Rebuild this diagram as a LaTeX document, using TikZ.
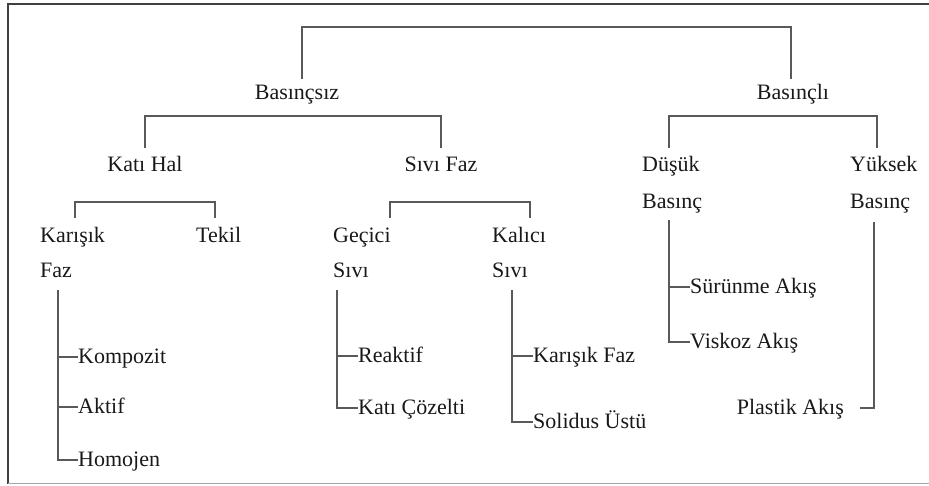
\documentclass[tikz,border=0pt]{standalone}
\usepackage{fontspec}
\setmainfont{Liberation Serif}
\begin{document}
\begin{tikzpicture}[x=1pt,y=-1pt,
  lbl/.style={inner sep=0pt,text=black!90,font=\fontsize{22}{26}\selectfont},
  lw/.style={lbl,anchor=base west},
  lc/.style={lbl,anchor=base},
  le/.style={lbl,anchor=base east},
  conn/.style={draw=black!65,line width=1.3pt}]
\useasboundingbox (0,0) rectangle (929,485);
\fill[white] (0,0) rectangle (929,485);
% frame
\draw[black!75,line width=2pt] (929,4) -- (8,4) -- (8,484);
\draw[black!35,line width=1pt] (8,483.5) -- (929,483.5);
% level 1
\node[lc] (bsz) at (297,99) {Basınçsız};
\node[lc] (bl) at (793,99) {Basınçlı};
% level 2
\node[lc] (kh) at (145,171) {Katı Hal};
\node[lc] (sf) at (441,171) {Sıvı Faz};
\node[lw] (dus) at (642,171) {Düşük};
\node[lw] (dusb) at (642,208) {Basınç};
\node[lw] (yuk) at (850,171) {Yüksek};
\node[lw] (yukb) at (850,208) {Basınç};
% level 3
\node[lw] (kar) at (40,242) {Karışık};
\node[lw] (karf) at (40,277) {Faz};
\node[lw] (tek) at (196,242) {Tekil};
\node[lw] (gec) at (333,242) {Geçici};
\node[lw] (gecs) at (333,277) {Sıvı};
\node[lw] (kal) at (492,242) {Kalıcı};
\node[lw] (kals) at (492,277) {Sıvı};
% leaves
\node[lw] (komp) at (78,363) {Kompozit};
\node[lw] (akt) at (78,413) {Aktif};
\node[lw] (hom) at (78,466) {Homojen};
\node[lw] (rea) at (358,362) {Reaktif};
\node[lw] (kc) at (358,414) {Katı Çözelti};
\node[lw] (kf) at (533,362) {Karışık Faz};
\node[lw] (sol) at (533,428) {Solidus Üstü};
\node[lw] (sur) at (690,293) {Sürünme Akış};
\node[lw] (vis) at (690,348) {Viskoz Akış};
\node[le] (pla) at (844,414) {Plastik Akış};
% brackets
\draw[conn] (302,79) -- (302,27) -- (791,27) -- (791,79);
\draw[conn] (kh.north |- 0,148) -- (kh.north |- 0,116) -- (sf.north |- 0,116) -- (sf.north |- 0,148);
\draw[conn] (669,148) -- (669,116) -- (877,116) -- (877,148);
\draw[conn] (75,218) -- (75,202) -- (215,202) -- (215,218);
\draw[conn] (390,218) -- (390,202) -- (530,202) -- (530,218);
% trees
\draw[conn] (58,290) -- (58,460) -- (hom.west |- 0,460);
\draw[conn] (58,357) -- (komp.west |- 0,357);
\draw[conn] (58,407) -- (akt.west |- 0,407);
\draw[conn] (337,290) -- (337,408) -- (kc.west |- 0,408);
\draw[conn] (337,356) -- (rea.west |- 0,356);
\draw[conn] (512,290) -- (512,422) -- (sol.west |- 0,422);
\draw[conn] (512,356) -- (kf.west |- 0,356);
\draw[conn] (669,220) -- (669,342) -- (vis.west |- 0,342);
\draw[conn] (669,287) -- (sur.west |- 0,287);
\draw[conn] (874,222) -- (874,408) -- (860,408);
\end{tikzpicture}
\end{document}
